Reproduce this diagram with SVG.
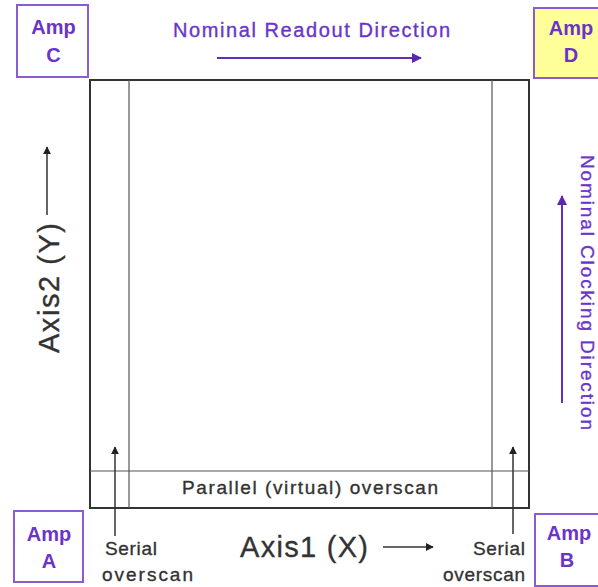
<svg xmlns="http://www.w3.org/2000/svg" width="598" height="587" viewBox="0 0 598 587">
  <style>
    .amp rect { fill: #ffffff; stroke: #8c5ad2; stroke-width: 2; }
    .amp text { font-family: "Liberation Sans", Arial, sans-serif; font-weight: bold; font-size: 20px; fill: #6a34c8; text-anchor: middle; }
    .lbl { font-family: "Liberation Sans", Arial, sans-serif; fill: #333333; stroke: #333333; stroke-width: 0.35; }
    .plbl { font-family: "Liberation Sans", Arial, sans-serif; fill: #6a34c8; stroke: #6a34c8; stroke-width: 0.35; }
    .frame { fill: none; stroke: #333333; stroke-width: 2; }
    .thin { stroke: #555555; stroke-width: 1.2; fill: none; }
    .blk { stroke: #333333; stroke-width: 1.5; fill: none; marker-end: url(#headK); }
    .pur { stroke: #6030b8; stroke-width: 2; fill: none; marker-end: url(#headP); }
  </style>
  <defs>
    <marker id="headK" viewBox="0 0 10 10" refX="9" refY="5" markerWidth="8" markerHeight="8" markerUnits="userSpaceOnUse" orient="auto">
      <path d="M0,0 L10,5 L0,10 z" fill="#222222"/>
    </marker>
    <marker id="headP" viewBox="0 0 10 10" refX="9" refY="5" markerWidth="11" markerHeight="10" markerUnits="userSpaceOnUse" orient="auto">
      <path d="M0,0 L10,5 L0,10 z" fill="#5a28b0"/>
    </marker>
  </defs>

  <rect width="598" height="587" fill="#ffffff"/>

  <!-- detector frame with overscan regions -->
  <g id="detector">
    <rect class="frame" x="90" y="80" width="439" height="428"/>
    <line class="thin" x1="129" y1="80" x2="129" y2="508"/>
    <line class="thin" x1="492" y1="80" x2="492" y2="508"/>
    <line class="thin" x1="90" y1="471" x2="529" y2="471"/>
    <text class="lbl" x="182" y="494" font-size="19" textLength="256">Parallel (virtual) overscan</text>
  </g>

  <!-- amplifiers -->
  <g id="ampC" class="amp">
    <rect x="17" y="5" width="71" height="72"/>
    <text x="53.5" y="34">Amp</text>
    <text x="53.5" y="62">C</text>
  </g>
  <g id="ampD" class="amp">
    <rect x="534" y="8" width="71" height="70" style="fill:#ffff99"/>
    <text x="571" y="35">Amp</text>
    <text x="571" y="62">D</text>
  </g>
  <g id="ampA" class="amp">
    <rect x="14" y="511" width="69" height="71"/>
    <text x="49" y="541">Amp</text>
    <text x="49" y="568">A</text>
  </g>
  <g id="ampB" class="amp">
    <rect x="535" y="514" width="71" height="72"/>
    <text x="569" y="540">Amp</text>
    <text x="567" y="567">B</text>
  </g>

  <!-- axis and direction labels -->
  <g id="labels">
    <text class="plbl" x="173" y="37" font-size="20" textLength="277">Nominal Readout Direction</text>
    <text class="plbl" font-size="19" textLength="275" transform="translate(581,155) rotate(90)">Nominal Clocking Direction</text>
    <text class="lbl" x="240" y="557" font-size="29" textLength="128">Axis1 (X)</text>
    <text class="lbl" font-size="29" textLength="130" transform="translate(59,353) rotate(-90)">Axis2 (Y)</text>
    <text class="lbl" x="105" y="555" font-size="19" textLength="52">Serial</text>
    <text class="lbl" x="102" y="581" font-size="19" textLength="91">overscan</text>
    <text class="lbl" x="525" y="555" font-size="19" text-anchor="end" textLength="52">Serial</text>
    <text class="lbl" x="525" y="581" font-size="19" text-anchor="end" textLength="82">overscan</text>
  </g>

  <!-- arrows -->
  <g id="connectors">
    <line class="pur" x1="217" y1="58" x2="421" y2="58"/>
    <line class="pur" x1="562" y1="403" x2="562" y2="196"/>
    <line class="blk" x1="383" y1="547" x2="433" y2="547"/>
    <line class="blk" x1="47" y1="215" x2="47" y2="147"/>
    <line class="blk" x1="115" y1="536" x2="115" y2="447"/>
    <line class="blk" x1="513" y1="534" x2="513" y2="447"/>
  </g>
</svg>
